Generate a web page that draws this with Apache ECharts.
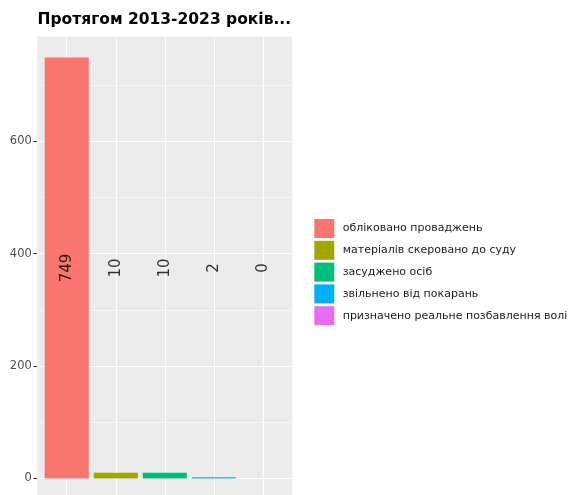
<!DOCTYPE html>
<html><head><meta charset="utf-8">
<script src="https://cdn.jsdelivr.net/npm/echarts@6/dist/echarts.min.js"></script>
<style>html,body{margin:0;padding:0;background:#fff}#c{width:570px;height:495px}</style>
</head><body><div id="c"></div>
<script>
const titleText = 'Протягом 2013-2023 років...';
const categories = ['обліковано проваджень', 'матеріалів скеровано до суду', 'засуджено осіб', 'звільнено від покарань', 'призначено реальне позбавлення волі'];
const values = [749, 10, 10, 2, 0];
const colors = ['#F8766D', '#A3A500', '#00BF7D', '#00B0F6', '#E76BF3'];
const yTicks = [0, 200, 400, 600];
const yMinorTicks = [100, 300, 500, 700];

const vMax = Math.max(...values);
const yMin = -0.05 * vMax, yMax = vMax * 1.05;
const labelY = vMax / 2;
const xPos = categories.map((c, i) => i + 1);

const gridLines = []
  .concat(yTicks.map(v => ({ yAxis: v, lineStyle: { width: 1.1 } })))
  .concat(yMinorTicks.map(v => ({ yAxis: v, lineStyle: { width: 0.55 } })))
  .concat(xPos.map(v => ({ xAxis: v, lineStyle: { width: 1.1 } })));

const series = [{
  type: 'line', name: '__grid', data: [], silent: true, z: 1,
  markLine: {
    silent: true, z: 1, symbol: ['none', 'none'], label: { show: false },
    lineStyle: { color: '#FFFFFF', type: 'solid' }, animation: false,
    data: gridLines
  }
}];
categories.forEach((c, i) => {
  series.push({
    type: 'bar', name: c, z: 2, barWidth: 44.1, barGap: '-100%',
    itemStyle: { color: colors[i] },
    data: [[xPos[i], values[i]]]
  });
});
series.push({
  type: 'scatter', name: '__labels', z: 3, symbolSize: 0, silent: true,
  data: values.map((v, i) => [xPos[i], labelY, v]),
  label: {
    show: true, position: 'inside', rotate: 90,
    formatter: p => String(p.value[2]),
    fontFamily: 'DejaVu Sans', fontSize: 15, color: '#000000'
  }
});

const chart = echarts.init(document.getElementById('c'), null, { renderer: 'canvas' });
chart.setOption({
  animation: false,
  backgroundColor: '#FFFFFF',
  title: {
    text: titleText, left: 32.5, top: 7,
    textStyle: { fontFamily: 'DejaVu Sans', fontWeight: 'bold', fontSize: 15.5, color: '#000000' }
  },
  grid: {
    left: 37.3, top: 36.5, width: 255, height: 463,
    show: true, backgroundColor: '#EBEBEB', borderWidth: 0, containLabel: false,
    outerBoundsMode: 'none'
  },
  legend: {
    data: categories, orient: 'vertical', left: 309.3, top: 214,
    itemWidth: 20, itemHeight: 19, itemGap: 2.8, icon: 'rect',
    textStyle: { fontFamily: 'DejaVu Sans', fontSize: 11, color: '#1A1A1A', padding: [0, 0, 0, 3.4] }
  },
  xAxis: { type: 'value', min: 0.4, max: 5.6, show: false },
  yAxis: {
    type: 'value', min: yMin, max: yMax,
    axisLine: { show: false },
    splitLine: { show: false },
    axisTick: { show: true, customValues: yTicks, length: 4, lineStyle: { color: '#333333', width: 1.1 } },
    axisLabel: { customValues: yTicks, margin: 5.5, color: '#4D4D4D', fontSize: 11.5, fontFamily: 'DejaVu Sans' }
  },
  series: series
});
</script></body></html>
